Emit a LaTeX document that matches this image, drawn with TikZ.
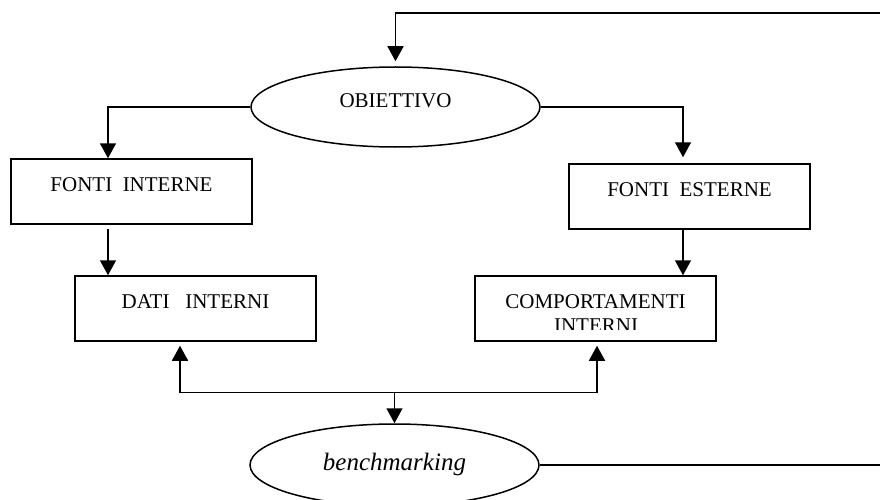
\documentclass[tikz,border=0pt]{standalone}
\usepackage{fontspec}
\setmainfont{Liberation Serif}
\usetikzlibrary{arrows.meta,shapes.geometric}
\begin{document}
\begin{tikzpicture}[x=1pt,y=-1pt,
  line width=1.5pt,
  arr/.style={-{Triangle[length=15pt,width=16pt]}},
  oval/.style={draw, ellipse, minimum width=289pt, minimum height=80pt, inner sep=0pt},
  box/.style={draw, rectangle, minimum width=241pt, minimum height=65pt, inner sep=0pt},
  lbl/.style={font=\fontsize{21}{25}\selectfont, inner sep=0pt, anchor=base}]
\useasboundingbox (0,0) rectangle (880,500);
\clip (0,0) rectangle (880,500);
% ovals
\node[oval] (obj) at (395.5,107) {};
\node[lbl] (objt) at (395.5,107) {OBIETTIVO};
\node[oval, minimum height=82pt] (bench) at (394.5,465) {};
\node[lbl, font=\fontsize{25}{30}\selectfont\itshape] (bencht) at (394.5,470) {benchmarking};
% boxes
\node[box] (fi) at (131.5,191.5) {};
\node[lbl] (fit) at (131.5,191) {FONTI\ \ INTERNE};
\node[box] (fe) at (689.5,196.5) {};
\node[lbl] (fet) at (689.5,196) {FONTI\ \ ESTERNE};
\node[box] (di) at (195.5,308.5) {};
\node[lbl] (dit) at (195.5,308) {DATI\ \ \ INTERNI};
\node[box] (ce) at (595.5,308.5) {};
\node[lbl] (cet) at (595.5,308) {COMPORTAMENTI};
\begin{scope}
  \clip (476,300) rectangle (715,329);
  \node[lbl] (cet2) at (596,332) {INTERNI};
\end{scope}
% connectors
\draw[arr, shorten >=5pt] (bench.east) -- (900,465) -- (900,13) -- (395.5,13) -- (obj.north);
\draw[arr] (obj.west) -| ([xshift=-23.5pt]fi.north);
\draw[arr, shorten >=6pt] (obj.east) -| ([xshift=-6.5pt]fe.north);
\draw[arr, shorten <=4pt] ([xshift=-23.5pt]fi.south) -- ([xshift=-23.5pt]fi.south |- di.north);
\draw[arr] ([xshift=-6.5pt]fe.south) -- ([xshift=-6.5pt]fe.south |- ce.north);
\coordinate (j) at ([yshift=31pt]bench.north);
\draw[arr] (j) -- (bench.north);
\draw[arr, shorten >=4pt] (j) -| ([xshift=-15.5pt]di.south);
\draw[arr, shorten >=4pt] (j) -| ([xshift=1.5pt]ce.south);
\end{tikzpicture}
\end{document}
